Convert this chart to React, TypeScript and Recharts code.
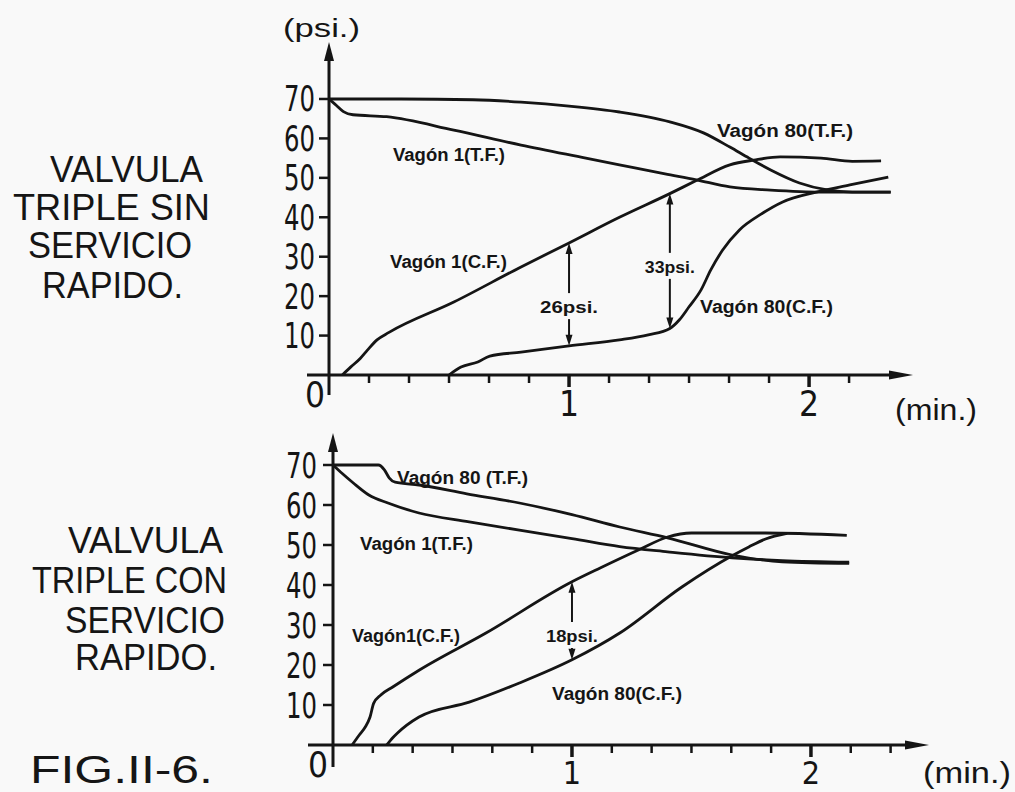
import { LineChart, Line, XAxis, YAxis, ReferenceLine, ReferenceDot } from 'recharts';

type Pt = [number, number];

// tiempo (min), presión (psi) — válvula triple SIN servicio rápido
const SIN_V1_TF: Pt[] = [
  [0, 70], [0.03, 68.4], [0.06, 66.8], [0.1, 66], [0.24, 65.5], [0.52, 62.1], [0.8, 58.3],
  [1.07, 55], [1.21, 53.3], [1.4, 51], [1.53, 49.5], [1.67, 47.7], [1.84, 46.9], [2.05, 46.4], [2.34, 46.4],
];
const SIN_V80_TF: Pt[] = [
  [0, 70], [0.3, 70], [0.6, 69.8], [0.8, 69.2], [1.0, 68.2], [1.21, 66.7], [1.42, 64.2], [1.56, 61.4],
  [1.67, 57.8], [1.75, 55], [1.84, 52], [1.96, 48.7], [2.07, 47], [2.18, 46.4], [2.34, 46.4],
];
const SIN_V1_CF: Pt[] = [
  [0.055, 0], [0.09, 2], [0.13, 4.2], [0.16, 6.3], [0.2, 8.9], [0.25, 10.8], [0.52, 18.5], [0.8, 27.4],
  [1.0, 33.5], [1.21, 40], [1.42, 46], [1.53, 49.3], [1.67, 53.3], [1.77, 54.5], [1.88, 55.3], [2.05, 55],
  [2.18, 54.2], [2.3, 54.3],
];
const SIN_V80_CF: Pt[] = [
  [0.5, 0], [0.55, 2], [0.62, 3.3], [0.67, 4.8], [0.8, 5.8], [1.0, 7.4], [1.21, 8.9], [1.33, 10.2],
  [1.42, 11.8], [1.46, 14], [1.5, 17.3], [1.55, 21.6], [1.59, 26.6], [1.64, 31.7], [1.71, 36.8],
  [1.8, 40.8], [1.89, 43.9], [2.03, 46.4], [2.17, 48.2], [2.33, 50.2],
];

// válvula triple CON servicio rápido
const CON_V1_TF: Pt[] = [
  [0, 70], [0.04, 67.8], [0.085, 65.5], [0.15, 62.5], [0.23, 60.5], [0.36, 58], [0.57, 55.8], [0.78, 53.7],
  [1.0, 51.6], [1.2, 49.6], [1.4, 48.3], [1.67, 46.8], [1.88, 46.1], [2.16, 45.7],
];
const CON_V80_TF: Pt[] = [
  [0, 70], [0.19, 70], [0.215, 68.8], [0.235, 66.8], [0.26, 65.7], [0.36, 65], [0.56, 62.8], [0.78, 60.5],
  [1.0, 57.6], [1.2, 54.5], [1.4, 51.8], [1.67, 47.5], [1.88, 45.8], [2.16, 45.4],
];
const CON_V1_CF: Pt[] = [
  [0.08, 0], [0.11, 2.5], [0.135, 4.5], [0.155, 7], [0.17, 10.4], [0.2, 12.5], [0.25, 14.5], [0.36, 18.7],
  [0.64, 28], [1.0, 40.8], [1.12, 44.3], [1.28, 48.8], [1.4, 52], [1.5, 53], [1.81, 53], [2.15, 52.4],
];
const CON_V80_CF: Pt[] = [
  [0.225, 0], [0.25, 1.8], [0.27, 3], [0.36, 7], [0.57, 10.7], [0.78, 15.5], [1.0, 21.3], [1.2, 28],
  [1.46, 39.5], [1.67, 47.3], [1.74, 49.5], [1.81, 51.5], [1.9, 52.9],
];

const X_LABELS = [1, 2];
const X_MINOR_SIN = [1 / 6, 2 / 6, 3 / 6, 4 / 6, 5 / 6, 7 / 6, 8 / 6, 9 / 6, 10 / 6, 11 / 6, 13 / 6];
const X_MINOR_CON = [1 / 6, 2 / 6, 3 / 6, 4 / 6, 5 / 6, 7 / 6, 8 / 6, 9 / 6, 10 / 6, 11 / 6, 13 / 6, 14 / 6];
const Y_LABELS = [0, 10, 20, 30, 40, 50, 60, 70];

// cotas: x, valor superior, valor inferior, texto, altura del texto (psi)
const SIN_COTAS = [
  { x: 1, from: 33.5, to: 7.4, text: '26psi.', at: 15.7, w: 58 },
  { x: 1.42, from: 46, to: 11.8, text: '33psi.', at: 25.9, w: 50 },
];
const CON_COTAS = [{ x: 1, from: 40.8, to: 21.3, text: '18psi.', at: 25.75, w: 52 }];

const INK = '#151515';
const NUM_FONT = "'Liberation Sans Narrow', 'DejaVu Sans Condensed', 'Liberation Sans', sans-serif";
const TXT_FONT = "'Liberation Sans', Arial, sans-serif";

const TOP_CFG = {
  top: 0, height: 440, plotLeft: 307, plotRight: 913, plotTop: 42, plotBottom: 395,
  xDomain: [-0.0917, 2.433], yDomain: [-5.07, 84.45], labelDx: 8, zeroDx: 8, xDy: 21, xFont: 35,
};
const BOT_CFG = {
  top: 420, height: 372, plotLeft: 308, plotRight: 929, plotTop: 13, plotBottom: 347,
  xDomain: [-0.1046, 2.494], yDomain: [-5.5, 78], labelDx: 9, zeroDx: 10, xDy: 17, xFont: 32,
};

const Y_W = 10;
const X_H = 25;

const toRows = (pts: Pt[]) => pts.map(([x, y]) => ({ x, y }));

const hArrow = (p: any) => {
  const xs = Math.min(p.x1, p.x2);
  const xe = Math.max(p.x1, p.x2);
  const y = p.y1;
  return (
    <g>
      <line x1={xs} y1={y} x2={xe - 12} y2={y} stroke={INK} strokeWidth={3} />
      <polygon points={`${xe},${y} ${xe - 24},${y - 4.5} ${xe - 24},${y + 4.5}`} fill={INK} />
    </g>
  );
};

const vArrow = (p: any) => {
  const ys = Math.min(p.y1, p.y2);
  const ye = Math.max(p.y1, p.y2);
  const x = p.x1;
  return (
    <g>
      <line x1={x} y1={ys + 10} x2={x} y2={ye} stroke={INK} strokeWidth={3} />
      <polygon points={`${x},${ys} ${x - 5},${ys + 19} ${x + 5},${ys + 19}`} fill={INK} />
    </g>
  );
};

const xTickMark = (major: boolean) => (p: any) => (
  <line x1={p.cx} y1={p.cy} x2={p.cx} y2={p.cy + (major ? 12 : 8)} stroke={INK} strokeWidth={major ? 3.5 : 2.5} />
);

const yTickMark = (p: any) => (
  <line x1={p.cx - 10} y1={p.cy} x2={p.cx} y2={p.cy} stroke={INK} strokeWidth={2.5} />
);

const cotaShape = (c: any) => (p: any) => {
  const x = p.x1;
  const yA = Math.min(p.y1, p.y2);
  const yB = Math.max(p.y1, p.y2);
  const frac = (c.from - c.at) / (c.from - c.to);
  const ly = yA + frac * (yB - yA);
  return (
    <g>
      <line x1={x} y1={yA + 4} x2={x} y2={ly - 20} stroke={INK} strokeWidth={2} />
      <line x1={x} y1={ly + 6} x2={x} y2={yB - 4} stroke={INK} strokeWidth={2} />
      <polygon points={`${x},${yA} ${x - 3.5},${yA + 11} ${x + 3.5},${yA + 11}`} fill={INK} />
      <polygon points={`${x},${yB} ${x - 3.5},${yB - 11} ${x + 3.5},${yB - 11}`} fill={INK} />
      <text x={x} y={ly} textAnchor="middle" textLength={c.w} lengthAdjust="spacingAndGlyphs"
        style={{ fontFamily: TXT_FONT, fontWeight: 700, fontSize: 17, fill: INK }}>
        {c.text}
      </text>
    </g>
  );
};

function Panel({ cfg, series, minor, cotas }: any) {
  const numStyle = { fontFamily: NUM_FONT, fontSize: 35, fill: INK };
  const yTick = (p: any) => {
    const v = p.payload.value;
    if (v === 0) {
      return <text x={p.x + cfg.zeroDx} y={p.y + 32} textAnchor="middle" style={numStyle}>0</text>;
    }
    return (
      <text x={p.x + cfg.labelDx} y={p.y + 12.5} textAnchor="end" textLength={31}
        lengthAdjust="spacingAndGlyphs" style={numStyle}>{v}</text>
    );
  };
  const xTick = (p: any) => (
    <text x={p.x} y={p.y + cfg.xDy} textAnchor="middle" style={{ ...numStyle, fontSize: cfg.xFont }}>
      {p.payload.value}
    </text>
  );

  return (
    <div style={{ position: 'absolute', left: 0, top: cfg.top }}>
      <LineChart
        width={1015}
        height={cfg.height}
        margin={{
          top: cfg.plotTop,
          left: cfg.plotLeft - Y_W,
          right: 1015 - cfg.plotRight,
          bottom: cfg.height - cfg.plotBottom - X_H,
        }}
      >
        <XAxis dataKey="x" type="number" domain={cfg.xDomain} allowDataOverflow ticks={X_LABELS}
          interval={0} axisLine={false} tickLine={false} tickSize={0} tickMargin={0} height={X_H} tick={xTick} />
        <YAxis type="number" domain={cfg.yDomain} allowDataOverflow ticks={Y_LABELS}
          interval={0} axisLine={false} tickLine={false} tickSize={0} tickMargin={0} width={Y_W} tick={yTick} />

        <ReferenceLine y={0} shape={hArrow} />
        <ReferenceLine x={0} shape={vArrow} />
        {minor.map((t: number) => (
          <ReferenceDot key={`m${t}`} x={t} y={0} shape={xTickMark(false)} />
        ))}
        {X_LABELS.map((t) => (
          <ReferenceDot key={`M${t}`} x={t} y={0} shape={xTickMark(true)} />
        ))}
        {Y_LABELS.filter((v) => v > 0).map((v) => (
          <ReferenceDot key={`y${v}`} x={0} y={v} shape={yTickMark} />
        ))}

        {series.map((s: Pt[], i: number) => (
          <Line key={i} data={toRows(s)} dataKey="y" type="monotone" dot={false}
            stroke={INK} strokeWidth={2.8} isAnimationActive={false} />
        ))}

        {cotas.map((c: any) => (
          <ReferenceLine key={c.text} segment={[{ x: c.x, y: c.from }, { x: c.x, y: c.to }]} shape={cotaShape(c)} />
        ))}
      </LineChart>
    </div>
  );
}

const AXIS_TEXTS = [
  { t: '(psi.)', x: 283, y: 37, w: 77, s: 26 },
  { t: '(min.)', x: 895, y: 420, w: 82, s: 30 },
  { t: '(min.)', x: 923, y: 783, w: 88, s: 30 },
];
const SIDE_TEXTS = [
  { t: 'VALVULA', x: 50, y: 182, w: 153 },
  { t: 'TRIPLE SIN', x: 13, y: 220, w: 197 },
  { t: 'SERVICIO', x: 28, y: 258, w: 164 },
  { t: 'RAPIDO.', x: 42, y: 298, w: 141 },
  { t: 'VALVULA', x: 68, y: 553, w: 155 },
  { t: 'TRIPLE CON', x: 32, y: 593, w: 195 },
  { t: 'SERVICIO', x: 65, y: 633, w: 160 },
  { t: 'RAPIDO.', x: 75, y: 670, w: 142 },
];
const CURVE_TEXTS = [
  { t: 'Vagón 1(T.F.)', x: 393, y: 161, w: 112 },
  { t: 'Vagón 1(C.F.)', x: 390, y: 268, w: 117 },
  { t: 'Vagón 80(T.F.)', x: 717, y: 137, w: 136 },
  { t: 'Vagón 80(C.F.)', x: 700, y: 313, w: 133 },
  { t: 'Vagón 80 (T.F.)', x: 397, y: 484, w: 131 },
  { t: 'Vagón 1(T.F.)', x: 360, y: 550, w: 113 },
  { t: 'Vagón1(C.F.)', x: 352, y: 642, w: 108 },
  { t: 'Vagón 80(C.F.)', x: 552, y: 700, w: 130 },
];

export default function App() {
  return (
    <div style={{ position: 'absolute', left: 0, top: 0, width: 1015, height: 792, background: '#f9f9f9', overflow: 'hidden' }}>
      <Panel cfg={TOP_CFG} series={[SIN_V1_TF, SIN_V80_TF, SIN_V1_CF, SIN_V80_CF]} minor={X_MINOR_SIN} cotas={SIN_COTAS} />
      <Panel cfg={BOT_CFG} series={[CON_V1_TF, CON_V80_TF, CON_V1_CF, CON_V80_CF]} minor={X_MINOR_CON} cotas={CON_COTAS} />
      <svg width={1015} height={792} style={{ position: 'absolute', left: 0, top: 0, pointerEvents: 'none' }}>
        {AXIS_TEXTS.map((d, i) => (
          <text key={`a${i}`} x={d.x} y={d.y} textLength={d.w} lengthAdjust="spacingAndGlyphs"
            style={{ fontFamily: TXT_FONT, fontSize: d.s, fill: INK }}>{d.t}</text>
        ))}
        {SIDE_TEXTS.map((d, i) => (
          <text key={`s${i}`} x={d.x} y={d.y} textLength={d.w} lengthAdjust="spacingAndGlyphs"
            style={{ fontFamily: TXT_FONT, fontSize: 36, fill: INK }}>{d.t}</text>
        ))}
        <text x={30} y={783} textLength={183} lengthAdjust="spacingAndGlyphs"
          style={{ fontFamily: TXT_FONT, fontSize: 38, fill: INK }}>FIG.II-6.</text>
        {CURVE_TEXTS.map((d, i) => (
          <text key={`c${i}`} x={d.x} y={d.y} textLength={d.w} lengthAdjust="spacingAndGlyphs"
            style={{ fontFamily: TXT_FONT, fontWeight: 700, fontSize: 18, fill: INK }}>{d.t}</text>
        ))}
      </svg>
    </div>
  );
}
